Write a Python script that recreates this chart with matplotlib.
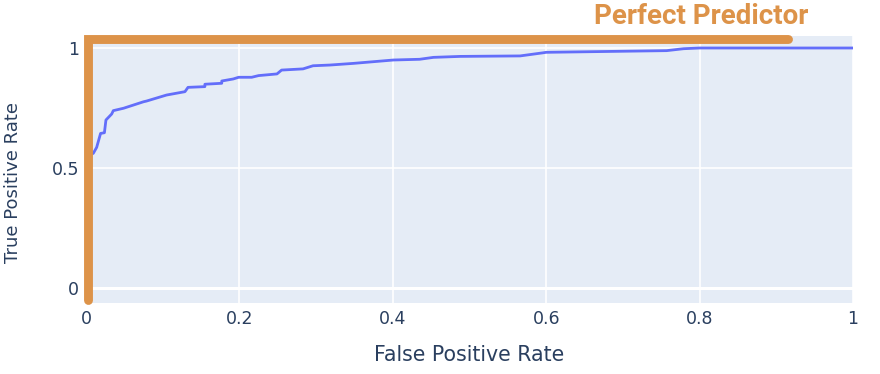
import matplotlib
matplotlib.use("Agg")
import matplotlib.pyplot as plt

# ROC curve points
fpr = [0.0, 0.0095, 0.0139, 0.019, 0.024, 0.026, 0.0335, 0.0356, 0.049, 0.075, 0.079,
       0.105, 0.129, 0.133, 0.155, 0.155, 0.177, 0.177, 0.192, 0.199, 0.216, 0.225,
       0.249, 0.255, 0.283, 0.296, 0.318, 0.349, 0.375, 0.401, 0.435, 0.453, 0.488,
       0.566, 0.596, 0.60, 0.757, 0.779, 0.80, 1.0]
tpr = [0.55, 0.561, 0.586, 0.644, 0.647, 0.70, 0.725, 0.739, 0.749, 0.776, 0.779,
       0.804, 0.818, 0.836, 0.839, 0.849, 0.853, 0.8625, 0.871, 0.878, 0.878, 0.885,
       0.892, 0.908, 0.913, 0.926, 0.929, 0.936, 0.943, 0.95, 0.953, 0.961, 0.965,
       0.967, 0.98, 0.982, 0.989, 0.997, 1.0, 1.0]

# perfect predictor outline
perfect_x = [0.002, 0.002, 0.915]
perfect_y = [-0.052, 1.0375, 1.0375]

x_ticks = [0, 0.2, 0.4, 0.6, 0.8, 1]
x_tick_labels = ["0", "0.2", "0.4", "0.6", "0.8", "1"]
y_ticks = [0, 0.5, 1]
y_tick_labels = ["0", "0.5", "1"]

text_color = "#2a3f5f"
orange = "#DD9349"

fig = plt.figure(figsize=(8.8, 3.74), dpi=100)
ax = fig.add_axes([86 / 880, 1 - 303 / 374, 767 / 880, 267 / 374])
ax.set_facecolor("#E5ECF6")

ax.set_xlim(0, 1)
ax.set_ylim(-0.0625, 1.05)
ax.set_xticks(x_ticks)
ax.set_xticklabels(x_tick_labels)
ax.set_yticks(y_ticks)
ax.set_yticklabels(y_tick_labels)
ax.grid(color="white", linewidth=1.2)
ax.axhline(0, color="white", linewidth=2.2, zorder=1)
ax.set_axisbelow(True)
for s in ax.spines.values():
    s.set_visible(False)
ax.tick_params(length=0, colors=text_color, labelsize=12.5, pad=5)

ax.plot(fpr, tpr, color="#636EFA", linewidth=2, zorder=3)
ax.plot(perfect_x, perfect_y, color=orange, linewidth=6.4, solid_capstyle="round",
        solid_joinstyle="miter", clip_on=False, zorder=4)

ax.text(0.802, 1.13, "Perfect Predictor", color=orange, fontsize=20,
        fontweight="bold", fontfamily="Roboto", ha="center", va="center",
        clip_on=False)

ax.set_xlabel("False Positive Rate", color=text_color, fontsize=14.8, labelpad=12)
ax.set_ylabel("True Positive Rate", color=text_color, fontsize=13)
ax.yaxis.set_label_coords(-0.083, 0.45)

fig.savefig("out.png", dpi=100)
